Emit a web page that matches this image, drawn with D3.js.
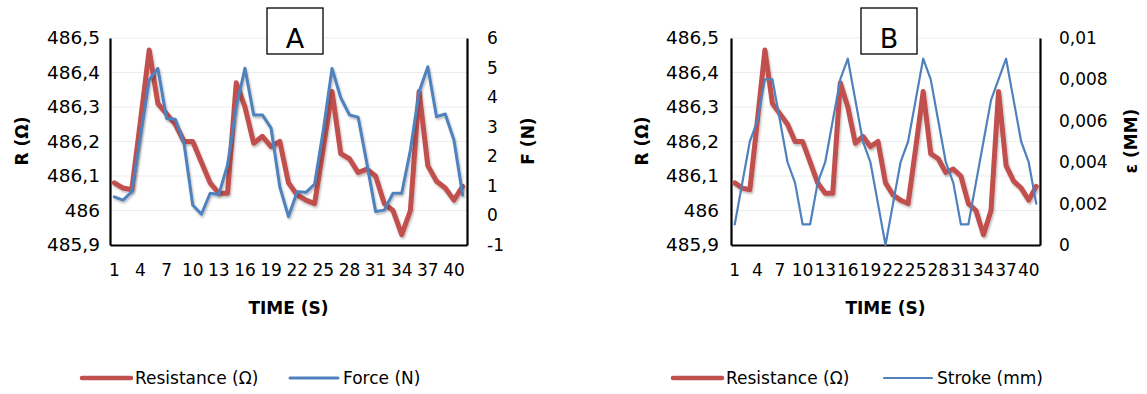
<!DOCTYPE html>
<html>
<head>
<meta charset="utf-8">
<script src="https://cdn.jsdelivr.net/npm/d3@7"></script>
<style>
  html, body { margin: 0; padding: 0; background: #fff; }
  svg { display: block; font-family: "DejaVu Sans", sans-serif; }
</style>
</head>
<body>
<svg id="chart" width="1147" height="394"></svg>
<script>
// Time steps (s)
const timeSteps = [1,2,3,4,5,6,7,8,9,10,11,12,13,14,15,16,17,18,19,20,
                   21,22,23,24,25,26,27,28,29,30,31,32,33,34,35,36,37,38,39,40,41];
const timeTicks = [1,4,7,10,13,16,19,22,25,28,31,34,37,40];

// Measured resistance (Ω)
const resistance = [486.08,486.065,486.06,486.26,486.465,486.31,486.28,486.25,486.20,486.20,
                    486.14,486.08,486.05,486.05,486.37,486.30,486.195,486.215,486.185,486.20,
                    486.08,486.045,486.03,486.02,486.18,486.345,486.165,486.15,486.11,486.12,
                    486.10,486.02,486.00,485.93,486.00,486.345,486.13,486.085,486.065,486.03,486.07];

// Applied force (N)
const force = [0.63,0.52,0.80,2.66,4.58,4.97,3.28,3.25,2.44,0.35,
               0.04,0.75,0.71,1.71,3.65,4.98,3.40,3.40,2.95,0.97,
               -0.04,0.80,0.78,1.06,2.89,4.97,3.98,3.40,3.32,1.76,
               0.13,0.18,0.75,0.75,2.21,4.18,5.03,3.34,3.43,2.55,0.69];

// Stroke (mm)
const stroke = [0.001,0.003,0.005,0.006,0.008,0.008,0.006,0.004,0.003,0.001,
                0.001,0.003,0.004,0.006,0.008,0.009,0.007,0.005,0.004,0.002,
                0.000,0.002,0.004,0.005,0.007,0.009,0.008,0.006,0.004,0.003,
                0.001,0.001,0.003,0.005,0.007,0.008,0.009,0.007,0.005,0.004,0.002];

const resistanceTicks = [485.9,486,486.1,486.2,486.3,486.4,486.5];
const forceTicks = [-1,0,1,2,3,4,5,6];
const strokeTicks = [0,0.002,0.004,0.006,0.008,0.01];

const RED = "#C0504D";
const BLUE = "#4F81BD";
const FONT = 17;

const svg = d3.select("#chart");

// soft shadow under the thick series lines
const defs = svg.append("defs");
defs.append("filter").attr("id", "shadow")
  .attr("x", "-5%").attr("y", "-10%").attr("width", "110%").attr("height", "130%")
  .append("feDropShadow")
  .attr("dx", 1).attr("dy", 1.8).attr("stdDeviation", 1.2)
  .attr("flood-color", "#000").attr("flood-opacity", 0.28);

const comma = (d, digits) => String(+d.toFixed(digits)).replace(".", ",");

function drawPanel(cfg) {
  const g = svg.append("g");
  const x = d3.scaleBand().domain(timeSteps).range([cfg.left, cfg.right]);
  const xc = d => x(d) + x.bandwidth() / 2;
  const yL = d3.scaleLinear().domain([485.9, 486.5]).range([cfg.bottom, cfg.top]);
  const yR = d3.scaleLinear().domain(cfg.rDomain).range([cfg.bottom, cfg.top]);

  // horizontal gridlines
  g.append("g").selectAll("line").data(resistanceTicks).join("line")
    .attr("x1", cfg.left).attr("x2", cfg.right)
    .attr("y1", d => yL(d)).attr("y2", d => yL(d))
    .attr("stroke", "#ececec").attr("stroke-width", 1);

  // left axis
  const axL = g.append("g").attr("transform", `translate(${cfg.left},0)`)
    .call(d3.axisLeft(yL).tickValues(resistanceTicks).tickSize(0).tickSizeOuter(0)
      .tickPadding(cfg.leftPad).tickFormat(d => comma(d, 1)));
  // right axis
  const axR = g.append("g").attr("transform", `translate(${cfg.right},0)`)
    .call(d3.axisRight(yR).tickValues(cfg.rTicks).tickSize(0).tickSizeOuter(0)
      .tickPadding(cfg.rightPad).tickFormat(d => comma(d, 3)));
  // bottom axis
  const axB = g.append("g").attr("transform", `translate(0,${cfg.bottom})`)
    .call(d3.axisBottom(x).tickValues(timeTicks).tickSize(0).tickSizeOuter(0).tickPadding(19));

  [axL, axR, axB].forEach(a => {
    a.select(".domain").attr("stroke", "#000").attr("stroke-width", 2.2);
    a.selectAll("text").attr("font-size", FONT).attr("fill", "#000")
      .attr("font-family", "DejaVu Sans, sans-serif");
  });
  axL.selectAll("text").attr("font-size", 18.5);

  // series lines
  const lineL = d3.line().x((d, i) => xc(timeSteps[i])).y(d => yL(d)).curve(d3.curveLinear);
  const lineR = d3.line().x((d, i) => xc(timeSteps[i])).y(d => yR(d)).curve(d3.curveLinear);

  g.append("path").datum(resistance).attr("d", lineL)
    .attr("fill", "none").attr("stroke", RED).attr("stroke-width", 5)
    .attr("stroke-linejoin", "round").attr("stroke-linecap", "round")
    .attr("filter", "url(#shadow)");
  g.append("path").datum(cfg.series).attr("d", lineR)
    .attr("fill", "none").attr("stroke", BLUE).attr("stroke-width", cfg.blueWidth)
    .attr("stroke-linejoin", "round").attr("stroke-linecap", "round")
    .attr("filter", cfg.blueShadow ? "url(#shadow)" : null);

  // axis titles
  g.append("text").attr("transform", `translate(${cfg.leftTitleX},141) rotate(-90)`)
    .attr("text-anchor", "middle").attr("dominant-baseline", "central")
    .attr("font-weight", "bold").attr("font-size", FONT).text("R (Ω)");
  g.append("text").attr("transform", `translate(${cfg.rightTitleX},141) rotate(-90)`)
    .attr("text-anchor", "middle").attr("dominant-baseline", "central")
    .attr("font-weight", "bold").attr("font-size", FONT).text(cfg.rightTitle);
  g.append("text").attr("x", (cfg.left + cfg.right) / 2).attr("y", 314)
    .attr("text-anchor", "middle").attr("font-weight", "bold")
    .attr("font-size", FONT).text("TIME (S)");

  // panel letter box
  g.append("rect").attr("x", cfg.boxX).attr("y", 8).attr("width", 56).attr("height", 46)
    .attr("fill", "#fff").attr("stroke", "#000").attr("stroke-width", 1.3);
  g.append("text").attr("x", cfg.boxX + 28).attr("y", 48).attr("text-anchor", "middle")
    .attr("font-size", 27).text(cfg.letter);

  // legend
  const lg = g.append("g");
  lg.append("line").attr("x1", cfg.legX).attr("x2", cfg.legX + 49).attr("y1", 378).attr("y2", 378)
    .attr("stroke", RED).attr("stroke-width", 4.5).attr("stroke-linecap", "round");
  lg.append("text").attr("x", cfg.legX + 53).attr("y", 378).attr("dominant-baseline", "central")
    .attr("font-size", FONT).text("Resistance (Ω)");
  lg.append("line").attr("x1", cfg.legX2).attr("x2", cfg.legX2 + 48).attr("y1", 378).attr("y2", 378)
    .attr("stroke", BLUE).attr("stroke-width", cfg.blueWidth).attr("stroke-linecap", "round");
  lg.append("text").attr("x", cfg.legX2 + 53).attr("y", 378).attr("dominant-baseline", "central")
    .attr("font-size", FONT).text(cfg.legendName);
}

drawPanel({
  left: 110, right: 467, top: 38, bottom: 245,
  leftPad: 10, rightPad: 20,
  rDomain: [-1, 6], rTicks: forceTicks, series: force,
  blueWidth: 3, blueShadow: true,
  leftTitleX: 22, rightTitleX: 528, rightTitle: "F (N)",
  boxX: 267, letter: "A",
  legX: 82, legX2: 290, legendName: "Force (N)"
});

drawPanel({
  left: 731, right: 1040, top: 38, bottom: 245,
  leftPad: 12, rightPad: 19,
  rDomain: [0, 0.01], rTicks: strokeTicks, series: stroke,
  blueWidth: 2.2, blueShadow: false,
  leftTitleX: 642, rightTitleX: 1131, rightTitle: "ε (MM)",
  boxX: 861, letter: "B",
  legX: 673, legX2: 884, legendName: "Stroke (mm)"
});
</script>
</body>
</html>
